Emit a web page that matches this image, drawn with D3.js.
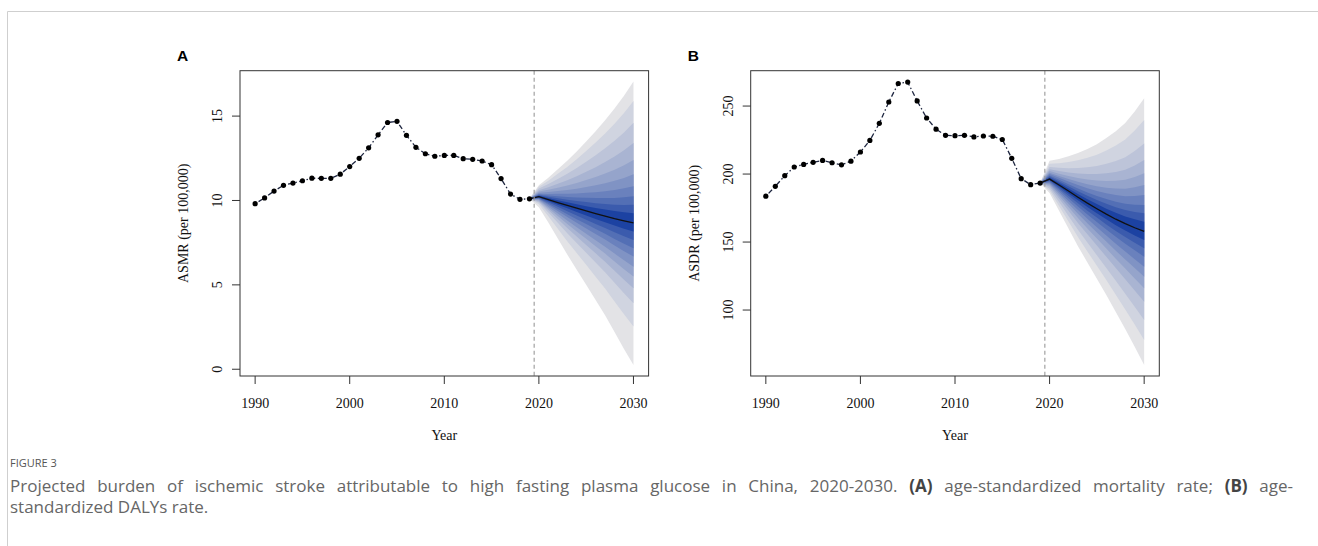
<!DOCTYPE html>
<html>
<head>
<meta charset="utf-8">
<script src="https://cdn.jsdelivr.net/npm/d3@7"></script>
<style>
  body { margin: 0; background: #fff; }
  svg { display: block; }
</style>
</head>
<body>
<script>
// observed years and values
var obsYears = [1990, 1991, 1992, 1993, 1994, 1995, 1996, 1997, 1998, 1999,
  2000, 2001, 2002, 2003, 2004, 2005, 2006, 2007, 2008, 2009,
  2010, 2011, 2012, 2013, 2014, 2015, 2016, 2017, 2018, 2019];

var asmrObs = [9.81, 10.15, 10.56, 10.90, 11.03, 11.17, 11.32, 11.31, 11.31, 11.56,
  12.01, 12.50, 13.12, 13.89, 14.62, 14.69, 13.86, 13.15, 12.77, 12.62,
  12.67, 12.67, 12.48, 12.44, 12.34, 12.12, 11.30, 10.38, 10.07, 10.10];

var asdrObs = [183.7, 191.0, 198.8, 205.2, 207.1, 208.6, 210.0, 208.3, 206.8, 209.5,
  216.2, 224.7, 237.3, 253.0, 266.6, 267.6, 253.8, 241.2, 233.0, 228.5,
  228.2, 228.5, 227.3, 228.0, 227.8, 225.4, 211.6, 196.6, 192.2, 193.4];

// forecast (first entry = last observed year, the anchor of the fan)
var fcYears = [2019, 2020, 2021, 2022, 2023, 2024, 2025, 2026, 2027, 2028, 2029, 2030];

var asmrMedian = [10.10, 10.23, 10.05, 9.88, 9.71, 9.54, 9.38, 9.22, 9.07, 8.92, 8.79, 8.67];
var asmrUpper  = [10.10, 10.90, 11.35, 11.85, 12.35, 12.90, 13.50, 14.10, 14.75, 15.45, 16.20, 17.05];
var asmrLower  = [10.10, 9.60, 8.70, 7.75, 6.80, 5.90, 5.00, 4.10, 3.20, 2.20, 1.20, 0.25];
// band edges read at 2030, inner to outer
var asmrUp2030 = [9.25, 9.74, 10.25, 10.85, 11.55, 12.40, 13.40, 14.60, 15.90, 17.05];
var asmrLo2030 = [8.16, 7.66, 7.17, 6.68, 6.08, 5.49, 4.80, 3.91, 2.53, 0.25];

var asdrMedian = [193.4, 196.3, 192.0, 187.5, 183.0, 178.6, 174.5, 170.5, 166.8, 163.5, 160.5, 157.8];
var asdrUpper  = [193.4, 209.8, 211.0, 213.0, 215.5, 218.5, 222.0, 226.5, 231.5, 237.5, 246.0, 255.7];
var asdrLower  = [193.4, 186.0, 173.0, 160.0, 147.0, 135.0, 123.0, 111.0, 98.5, 86.0, 73.0, 59.6];
var asdrUp2030 = [164.9, 171.1, 177.2, 184.6, 191.9, 200.5, 210.3, 222.5, 239.7, 255.7];
var asdrLo2030 = [151.5, 145.4, 139.2, 131.9, 124.5, 116.0, 106.1, 92.6, 77.9, 59.6];

var xTicks = [1990, 2000, 2010, 2020, 2030];
var asmrTicks = [0, 5, 10, 15];
var asdrTicks = [100, 150, 200, 250];

var W = 1318, H = 546;
var serif = '"Liberation Serif", "Times New Roman", serif';

var svg = d3.select('body').append('svg').attr('width', W).attr('height', H);
svg.append('rect').attr('width', W).attr('height', H).attr('fill', '#fff');

// frame lines of the figure
svg.append('line').attr('x1', 7.5).attr('x2', W).attr('y1', 11.5).attr('y2', 11.5)
  .attr('stroke', '#cfcfcf');
svg.append('line').attr('x1', 7.5).attr('x2', 7.5).attr('y1', 11.5).attr('y2', H)
  .attr('stroke', '#cfcfcf');

var fanCols = d3.range(10).map(function(i){
  return d3.interpolateRgb('#1c42a2', '#e3e3e6')(Math.pow(i / 9, 0.85));
});

function drawPanel(p){
  var g = svg.append('g');
  var x = d3.scaleLinear().domain([1988.4, 2031.6]).range([p.left, p.left + 408.6]);
  var y = d3.scaleLinear().domain(p.yDomain).range([376, 70.7]);

  // fan bands, outermost first
  var last = fcYears.length - 1;
  for (var k = 9; k >= 0; k--) {
    var fu = (p.up30[k] - p.med[last]) / (p.upper[last] - p.med[last]);
    var fl = (p.med[last] - p.lo30[k]) / (p.med[last] - p.lower[last]);
    var rows = fcYears.map(function(yr, i){
      return {
        year: yr,
        hi: p.med[i] + fu * (p.upper[i] - p.med[i]),
        lo: p.med[i] - fl * (p.med[i] - p.lower[i])
      };
    });
    var area = d3.area().x(function(d){ return x(d.year); })
      .y0(function(d){ return y(d.lo); }).y1(function(d){ return y(d.hi); });
    g.append('path').datum(rows).attr('d', area).attr('fill', fanCols[k]);
  }

  // median forecast
  var line = d3.line().x(function(d){ return x(d[0]); }).y(function(d){ return y(d[1]); });
  g.append('path').datum(d3.zip(fcYears, p.med)).attr('d', line)
    .attr('fill', 'none').attr('stroke', '#111').attr('stroke-width', 1.3);

  // observed series
  g.append('path').datum(d3.zip(obsYears, p.obs)).attr('d', line)
    .attr('fill', 'none').attr('stroke', '#1e2640').attr('stroke-width', 1.3)
    .attr('stroke-dasharray', '1.5,2.5,5,2.5');
  g.selectAll('circle.pt').data(d3.zip(obsYears, p.obs)).enter().append('circle')
    .attr('cx', function(d){ return x(d[0]); }).attr('cy', function(d){ return y(d[1]); })
    .attr('r', 2.6).attr('fill', '#000');

  // forecast start
  g.append('line').attr('x1', x(2019.5)).attr('x2', x(2019.5)).attr('y1', 70.7).attr('y2', 376)
    .attr('stroke', '#999').attr('stroke-width', 1.1).attr('stroke-dasharray', '4,3');

  // box
  g.append('rect').attr('x', p.left).attr('y', 70.7).attr('width', 408.6).attr('height', 305.3)
    .attr('fill', 'none').attr('stroke', '#333').attr('stroke-width', 1);

  // x axis
  xTicks.forEach(function(t){
    g.append('line').attr('x1', x(t)).attr('x2', x(t)).attr('y1', 376).attr('y2', 384)
      .attr('stroke', '#333');
    g.append('text').attr('x', x(t)).attr('y', 408).attr('text-anchor', 'middle')
      .attr('font-family', serif).attr('font-size', 14).attr('fill', '#111').text(t);
  });
  // y axis
  p.ticks.forEach(function(t){
    g.append('line').attr('x1', p.left).attr('x2', p.left - 8).attr('y1', y(t)).attr('y2', y(t))
      .attr('stroke', '#333');
    g.append('text').attr('transform', 'translate(' + (p.left - 18) + ',' + y(t) + ') rotate(-90)')
      .attr('text-anchor', 'middle')
      .attr('font-family', serif).attr('font-size', 14).attr('fill', '#111').text(t);
  });

  g.append('text').attr('x', p.left + 204.3).attr('y', 440).attr('text-anchor', 'middle')
    .attr('font-family', serif).attr('font-size', 14).attr('fill', '#111').text('Year');
  g.append('text').attr('transform', 'translate(' + (p.left - 52) + ',223.3) rotate(-90)')
    .attr('text-anchor', 'middle')
    .attr('font-family', serif).attr('font-size', 14).attr('fill', '#111').text(p.yLabel);

  g.append('text').attr('x', p.left - 63).attr('y', 61)
    .attr('font-family', 'Arial, "Liberation Sans", sans-serif').attr('font-weight', 'bold')
    .attr('font-size', 15.5).attr('fill', '#000').text(p.tag);
}

drawPanel({ left: 240, yDomain: [-0.40, 17.69], ticks: asmrTicks, obs: asmrObs,
  med: asmrMedian, upper: asmrUpper, lower: asmrLower, up30: asmrUp2030, lo30: asmrLo2030,
  yLabel: 'ASMR (per 100,000)', tag: 'A' });
drawPanel({ left: 750.7, yDomain: [51.5, 276.0], ticks: asdrTicks, obs: asdrObs,
  med: asdrMedian, upper: asdrUpper, lower: asdrLower, up30: asdrUp2030, lo30: asdrLo2030,
  yLabel: 'ASDR (per 100,000)', tag: 'B' });

// caption
var sans = '"Open Sans", "Noto Sans", sans-serif';
svg.append('text').attr('x', 10).attr('y', 467).attr('font-family', sans)
  .attr('font-size', 11).attr('fill', '#555').text('FIGURE 3');
var cap1 = svg.append('text').attr('x', 10).attr('y', 492).attr('font-family', sans)
  .attr('font-size', 17).attr('fill', '#666');
cap1.append('tspan').text('Projected burden of ischemic stroke attributable to high fasting plasma glucose in China, 2020-2030. ');
cap1.append('tspan').attr('font-weight', 'bold').attr('fill', '#444').text('(A)');
cap1.append('tspan').text(' age-standardized mortality rate; ');
cap1.append('tspan').attr('font-weight', 'bold').attr('fill', '#444').text('(B)');
cap1.append('tspan').text(' age-');
// justified line: spread any remaining width over the word gaps
var natural = cap1.node().getComputedTextLength();
var gaps = cap1.text().split(' ').length - 1;
cap1.style('word-spacing', Math.max(0, (1283 - natural) / gaps) + 'px');
svg.append('text').attr('x', 10).attr('y', 513).attr('font-family', sans)
  .attr('font-size', 17).attr('fill', '#666').text('standardized DALYs rate.');
</script>
</body>
</html>
